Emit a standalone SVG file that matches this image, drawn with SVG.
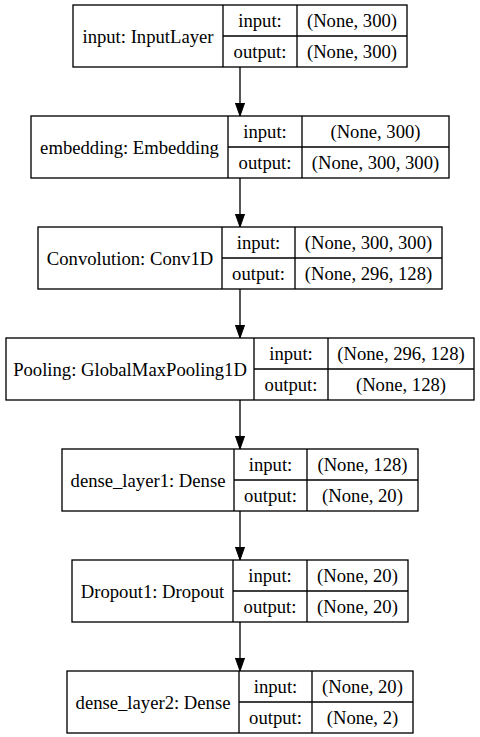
<svg xmlns="http://www.w3.org/2000/svg" width="480" height="737" viewBox="0 0 480 737">
<style>
  .box{fill:#fff;stroke:#000;stroke-width:1.33}
  .ln{stroke:#000;stroke-width:1.33;fill:none}
  text{font-family:"Liberation Serif","Times New Roman",serif;font-size:18.67px;fill:#000;text-anchor:middle}
  .edge{stroke:#000;stroke-width:1.33;fill:none}
</style>
<defs>
  <marker id="ah" markerWidth="14" markerHeight="10" refX="13.3" refY="5" orient="auto" markerUnits="userSpaceOnUse" viewBox="0 0 14 10">
    <path d="M0,0.3 L13.3,5 L0,9.7 Z" fill="#000" stroke="#000" stroke-width="1"/>
  </marker>
</defs>
<rect width="480" height="737" fill="#fff"/>
<g id="connectors">
  <line class="edge" x1="240" y1="67" x2="240" y2="116" marker-end="url(#ah)"/>
  <line class="edge" x1="240" y1="178" x2="240" y2="227" marker-end="url(#ah)"/>
  <line class="edge" x1="240" y1="289" x2="240" y2="338" marker-end="url(#ah)"/>
  <line class="edge" x1="240" y1="400" x2="240" y2="449" marker-end="url(#ah)"/>
  <line class="edge" x1="240" y1="511" x2="240" y2="560" marker-end="url(#ah)"/>
  <line class="edge" x1="240" y1="622" x2="240" y2="671" marker-end="url(#ah)"/>
</g>
<g id="node-input">
  <rect class="box" x="73" y="5" width="334" height="62"/>
  <path class="ln" d="M223,5 V67 M297,5 V67 M223,36 H407"/>
  <text x="148" y="42.5">input: InputLayer</text>
  <text x="260" y="27">input:</text>
  <text x="260" y="58">output:</text>
  <text x="352" y="27">(None, 300)</text>
  <text x="352" y="58">(None, 300)</text>
</g>
<g id="node-embedding">
  <rect class="box" x="31" y="116" width="418" height="62"/>
  <path class="ln" d="M228,116 V178 M302,116 V178 M228,147 H449"/>
  <text x="129.5" y="153.5">embedding: Embedding</text>
  <text x="265" y="138">input:</text>
  <text x="265" y="169">output:</text>
  <text x="375.5" y="138">(None, 300)</text>
  <text x="375.5" y="169">(None, 300, 300)</text>
</g>
<g id="node-conv">
  <rect class="box" x="38" y="227" width="404" height="62"/>
  <path class="ln" d="M222,227 V289 M295,227 V289 M222,258 H442"/>
  <text x="130" y="264.5">Convolution: Conv1D</text>
  <text x="258.5" y="249">input:</text>
  <text x="258.5" y="280">output:</text>
  <text x="368.5" y="249">(None, 300, 300)</text>
  <text x="368.5" y="280">(None, 296, 128)</text>
</g>
<g id="node-pooling">
  <rect class="box" x="6" y="338" width="468" height="62"/>
  <path class="ln" d="M254,338 V400 M328,338 V400 M254,369 H474"/>
  <text x="130" y="375.5">Pooling: GlobalMaxPooling1D</text>
  <text x="291" y="360">input:</text>
  <text x="291" y="391">output:</text>
  <text x="401" y="360">(None, 296, 128)</text>
  <text x="401" y="391">(None, 128)</text>
</g>
<g id="node-dense1">
  <rect class="box" x="62" y="449" width="356" height="62"/>
  <path class="ln" d="M234,449 V511 M307,449 V511 M234,480 H418"/>
  <text x="148" y="486.5">dense_layer1: Dense</text>
  <text x="270.5" y="471">input:</text>
  <text x="270.5" y="502">output:</text>
  <text x="362.5" y="471">(None, 128)</text>
  <text x="362.5" y="502">(None, 20)</text>
</g>
<g id="node-dropout">
  <rect class="box" x="72" y="560" width="336" height="62"/>
  <path class="ln" d="M233,560 V622 M307,560 V622 M233,591 H408"/>
  <text x="152.5" y="597.5">Dropout1: Dropout</text>
  <text x="270" y="582">input:</text>
  <text x="270" y="613">output:</text>
  <text x="357.5" y="582">(None, 20)</text>
  <text x="357.5" y="613">(None, 20)</text>
</g>
<g id="node-dense2">
  <rect class="box" x="67" y="671" width="346" height="62"/>
  <path class="ln" d="M239,671 V733 M312,671 V733 M239,702 H413"/>
  <text x="153" y="708.5">dense_layer2: Dense</text>
  <text x="275.5" y="693">input:</text>
  <text x="275.5" y="724">output:</text>
  <text x="362.5" y="693">(None, 20)</text>
  <text x="362.5" y="724">(None, 2)</text>
</g>
</svg>
